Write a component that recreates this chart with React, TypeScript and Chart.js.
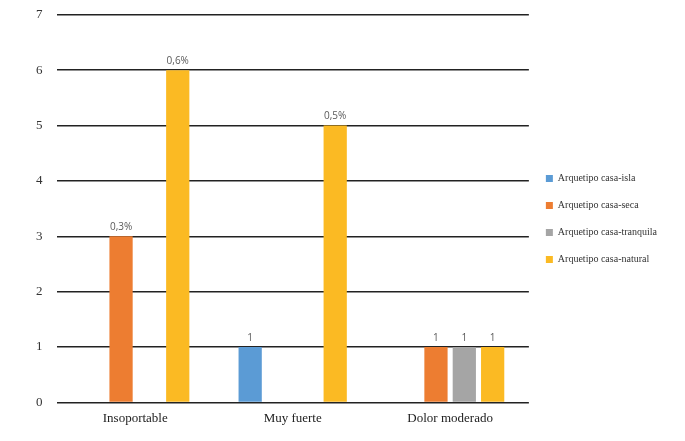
import React, { useEffect, useRef } from "react";
import { Chart, registerables } from "chart.js";

Chart.register(...registerables);

const categories = ["Insoportable", "Muy fuerte", "Dolor moderado"];
const seriesNames = [
  "Arquetipo casa-isla",
  "Arquetipo casa-seca",
  "Arquetipo casa-tranquila",
  "Arquetipo casa-natural",
];
const casaIsla = [null, 1, null];
const casaSeca = [3, null, 1];
const casaTranquila = [null, null, 1];
const casaNatural = [6, 5, 1];
const islaLabels = ["", "1", ""];
const secaLabels = ["0,3%", "", "1"];
const tranquilaLabels = ["", "", "1"];
const naturalLabels = ["0,6%", "0,5%", "1"];
const yTicks = [0, 1, 2, 3, 4, 5, 6, 7];

const colors = ["#5B9BD5", "#ED7D31", "#A5A5A5", "#FBBA23"];

const valueLabelPlugin = {
  id: "valueLabels",
  afterDatasetsDraw(chart: any) {
    const ctx = chart.ctx;
    ctx.save();
    ctx.font = "10px 'Open Sans', sans-serif";
    ctx.fillStyle = "#595959";
    ctx.textAlign = "center";
    ctx.textBaseline = "bottom";
    chart.data.datasets.forEach((ds: any, i: number) => {
      const meta = chart.getDatasetMeta(i);
      meta.data.forEach((bar: any, j: number) => {
        const txt = ds.valueLabels[j];
        if (!txt || ds.data[j] == null) return;
        ctx.fillText(txt, bar.x, bar.y - 4);
      });
    });
    ctx.restore();
  },
};

export default function App() {
  const ref = useRef<HTMLCanvasElement>(null);
  useEffect(() => {
    const dataSets = [casaIsla, casaSeca, casaTranquila, casaNatural];
    const labelSets = [islaLabels, secaLabels, tranquilaLabels, naturalLabels];
    const chart = new Chart(ref.current as HTMLCanvasElement, {
      type: "bar",
      data: {
        labels: categories,
        datasets: dataSets.map((d, i) => ({
          label: seriesNames[i],
          data: d,
          backgroundColor: colors[i],
          borderWidth: 0,
          categoryPercentage: 0.72,
          barPercentage: 0.82,
          valueLabels: labelSets[i],
        })) as any,
      },
      options: {
        responsive: false,
        animation: false,
        layout: { padding: { top: 2, left: 14, right: 10, bottom: 4 } },
        plugins: {
          legend: {
            position: "right",
            title: {
              display: true,
              text: " ",
              padding: 0,
              font: { size: 7.5 },
            },
            labels: {
              boxWidth: 7,
              boxHeight: 7,
              padding: 17,
              color: "#333",
              font: { family: "'Liberation Serif', serif", size: 10 },
            },
          },
          tooltip: { enabled: false },
        },
        scales: {
          x: {
            grid: { display: false, drawTicks: false },
            border: { display: false },
            ticks: {
              color: "#222",
              padding: 8,
              font: { family: "'Liberation Serif', serif", size: 13 },
            },
          },
          y: {
            min: 0,
            max: 7,
            afterBuildTicks: (axis: any) => {
              axis.ticks = yTicks.map((v) => ({ value: v }));
            },
            grid: { color: "#222", lineWidth: 1.5, drawTicks: false },
            border: { display: false },
            ticks: {
              color: "#333",
              padding: 14,
              font: { family: "'Liberation Serif', serif", size: 13 },
            },
          },
        },
      },
      plugins: [valueLabelPlugin],
    });
    return () => chart.destroy();
  }, []);
  return (
    <canvas
      ref={ref}
      width={669}
      height={445}
      style={{ display: "block", marginTop: -15 }}
    />
  );
}
